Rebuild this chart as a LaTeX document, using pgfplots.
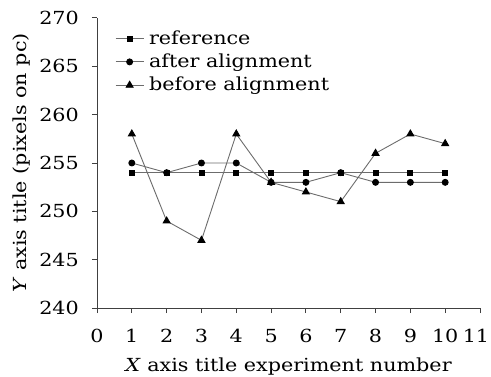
\documentclass[border=0pt]{standalone}
\usepackage{pgfplots}
\pgfplotsset{compat=1.18}
\usepackage{fontspec}
\setmainfont[FakeStretch=1.15]{DejaVu Serif}
\begin{document}
\fontsize{18bp}{21bp}\selectfont
\begin{tikzpicture}
\begin{axis}[
  name=ax,
  scale only axis,
  width=383bp, height=290bp,
  xmin=0, xmax=11, ymin=240, ymax=270,
  xtick={0,1,...,11}, ytick={240,245,...,270},
  xticklabels={0,1,2,3,4,5,6,7,8,9,10,\hspace*{-8bp}11},
  axis lines=left,
  axis line style={-, line width=1pt, black!75},
  tick style={black!75, line width=1pt},
  tick align=outside,
  major tick length=5bp,
  /pgf/number format/assume math mode=true,
  ticklabel style={font=\fontsize{18bp}{21bp}\selectfont},
  xticklabel style={yshift=-10bp},
  yticklabel style={xshift=-7bp},
  label style={font=\fontsize{18bp}{21bp}\selectfont},
  xlabel={\textit{X} axis title experiment number},
  ylabel={\textit{Y} axis title (pixels on pc)},
  xlabel style={yshift=-3bp},
  ylabel style={yshift=-3bp},
  legend style={draw=none, fill=none, at={(0.047,0.965)}, anchor=north west, font=\fontsize{18bp}{21bp}\selectfont, row sep=3bp, inner sep=0pt, nodes={inner xsep=5bp}},
  legend image code/.code={\draw[#1] (0bp,0bp) -- (28bp,0bp); \draw[#1, only marks] plot coordinates {(14bp,0bp)};},
  legend cell align=left,
  every axis plot/.append style={line width=0.9pt},
]
\addplot[gray!85!black, mark=square*, mark size=2.5bp, mark options={black, fill=black, solid}] coordinates {
(1,254)(2,254)(3,254)(4,254)(5,254)(6,254)(7,254)(8,254)(9,254)(10,254)};
\addlegendentry{reference}
\addplot[gray!85!black, mark=*, mark size=3bp, mark options={black, fill=black, solid}] coordinates {
(1,255)(2,254)(3,255)(4,255)(5,253)(6,253)(7,254)(8,253)(9,253)(10,253)};
\addlegendentry{after alignment}
\addplot[gray!85!black, mark=triangle*, mark size=4bp, mark options={black, fill=black, solid}] coordinates {
(1,258)(2,249)(3,247)(4,258)(5,253)(6,252)(7,251)(8,256)(9,258)(10,257)};
\addlegendentry{before alignment}
\end{axis}
\pgfresetboundingbox
\path[use as bounding box] ([xshift=-97bp,yshift=-69bp]ax.south west) rectangle ([xshift=11bp,yshift=18bp]ax.north east);
\end{tikzpicture}
\end{document}
